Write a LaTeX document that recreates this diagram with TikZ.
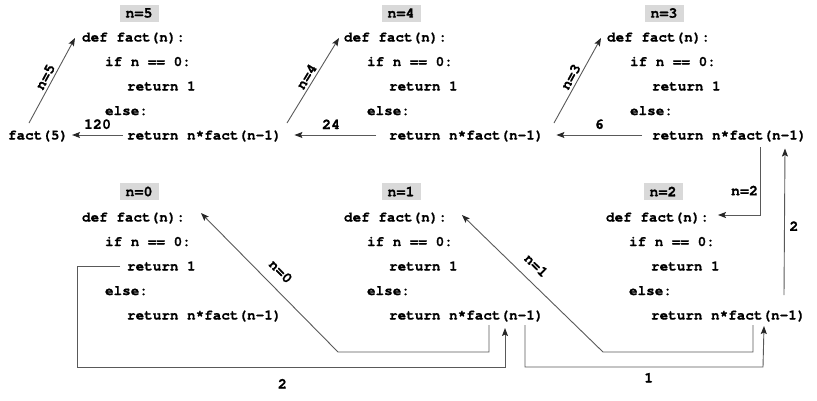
\documentclass[tikz,border=0pt]{standalone}
\usepackage{fontspec}
\newfontfamily\codefont{TeX Gyre Cursor}[BoldFeatures={FakeBold=0.8}]
\usetikzlibrary{arrows.meta,calc}
\newcommand\cfont{\codefont\bfseries\fontsize{14.3pt}{17pt}\selectfont}
\newcommand\lfont{\codefont\bfseries\fontsize{15pt}{17pt}\selectfont}
\newcommand\codeblock[5]{%
  \node[nlabel] (#1n) at (#2+57,#3-#5) {#4};
  \node[code] (#1d) at (#2,#3) {def fact(n):};
  \node[code] (#1i) at (#2+23,#3+24.5) {if n == 0:};
  \node[code] (#1o) at (#2+45,#3+49) {return 1};
  \node[code] (#1e) at (#2+23,#3+73.5) {else:};
  \node[code] (#1r) at (#2+45,#3+98) {return n*fact(n-1)};
}
\begin{document}
\begin{tikzpicture}[x=1pt,y=-1pt,
  code/.style={font=\cfont, inner sep=0pt, outer sep=0pt, anchor=base west},
  nlabel/.style={font=\lfont, fill=black!15, minimum width=39pt, minimum height=17pt, inner sep=0pt},
  conn/.style={draw=black!65, line width=0.9pt},
  arr/.style={conn, -{Stealth[length=8pt,width=6pt,inset=1.5pt,fill=black!85,color=black!85]}},
  num/.style={font=\lfont, inner sep=1.5pt, text=black}]
\useasboundingbox (0,0) rectangle (817,400);

\codeblock{b5}{82}{41.5}{n=5}{28.5}
\codeblock{b4}{344}{41.5}{n=4}{28.5}
\codeblock{b3}{607}{41.5}{n=3}{28.5}
\codeblock{b0}{82}{221.5}{n=0}{30}
\codeblock{b1}{344}{221.5}{n=1}{30}
\codeblock{b2}{606}{221.5}{n=2}{30}
\node[code] (f5) at (8,139.5) {fact(5)};

% calls downward (top row)
\draw[arr] ($(f5.base west)+(21,-16.5)$) -- node[midway,sloped,above=1pt,num]{n=5} ($(b5d.base west)+(-7,-3.5)$);
\draw[arr] ($(b5r.base west)+(160,-16.5)$) -- node[midway,sloped,above=1pt,num]{n=4} ($(b4d.base west)+(-5,-3.5)$);
\draw[arr] ($(b4r.base west)+(165,-16.5)$) -- node[midway,sloped,above=1pt,num]{n=3} ($(b3d.base west)+(-6,-3.5)$);

% returns (top row)
\draw[arr] ($(b5r.base west)+(-4,-4.5)$) -- node[midway,above=4pt,num]{120} ($(f5.base east)+(4,-4.5)$);
\draw[arr] ($(b4r.base west)+(-13,-4.5)$) -- node[pos=0.55,above=4pt,num]{24} ($(b5r.base east)+(13,-4.5)$);
\draw[arr] ($(b3r.base west)+(-10,-4.5)$) -- node[midway,above=4pt,num]{6} ($(b4r.base east)+(13,-4.5)$);

% n=3 -> n=2 and back
\draw[arr] ($(b3r.base west)+(108,7.5)$) |- node[pos=0.32,left,num]{n=2} ($(b2d.base east)+(9,-6.5)$);
\draw[arr] ($(b2r.base west)+(133,-24.5)$) -- node[pos=0.47,right=3pt,num]{2} ($(b3r.base west)+(133,9)$);

% n=2 -> n=1 and back
\coordinate (c4) at (603,352);
\draw[arr] ($(b2r.base west)+(102,5.5)$) |- (c4) -- node[pos=0.55,sloped,above=9pt,num]{n=1} ($(b1d.base east)+(15,-6.5)$);
\coordinate (c3) at (763,367);
\draw[arr] ($(b1r.base west)+(136,5.5)$) |- node[pos=0.76,below=4pt,num]{1} (c3) -- ($(b2r.base west)+(113,6.5)$);

% n=1 -> n=0 and back
\coordinate (c2) at (338,352);
\draw[arr] ($(b1r.base west)+(100,5.5)$) |- (c2) -- node[pos=0.5,sloped,above=9pt,num]{n=0} ($(b0d.base east)+(16,-8.5)$);
\coordinate (c1) at (77,367);
\coordinate (t01) at ($(b1r.base west)+(116,8.5)$);
\draw[arr] ($(b0o.base west)+(-7,-4.5)$) -| (c1) -| node[pos=0.24,below=10pt,num]{2} (t01);
\end{tikzpicture}
\end{document}
